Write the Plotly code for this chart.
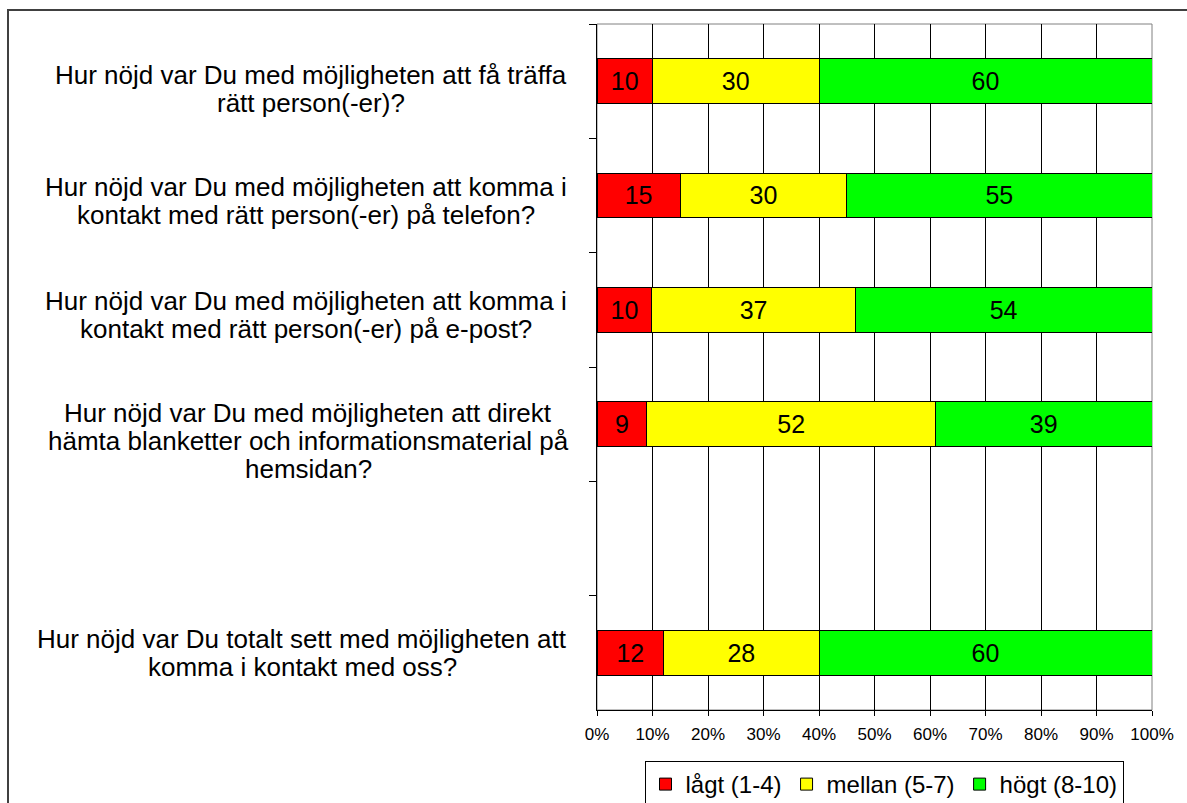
import plotly.graph_objects as go

# ---- data ----
categories = [
    "Hur nöjd var Du med möjligheten att få träffa<br>rätt person(-er)?",
    "Hur nöjd var Du med möjligheten att komma i<br>kontakt med rätt person(-er) på telefon?",
    "Hur nöjd var Du med möjligheten att komma i<br>kontakt med rätt person(-er) på e-post?",
    "Hur nöjd var Du med möjligheten att direkt<br>hämta blanketter och informationsmaterial på<br>hemsidan?",
    "",
    "Hur nöjd var Du totalt sett med möjligheten att<br>komma i kontakt med oss?",
]
lagt = [10, 15, 10, 9, None, 12]
mellan = [30, 30, 37, 52, None, 28]
hogt = [60, 55, 54, 39, None, 60]
series_names = ["lågt (1-4)", "mellan (5-7)", "högt (8-10)"]
x_ticks = [0, 10, 20, 30, 40, 50, 60, 70, 80, 90, 100]

# ---- style ----
colors = ["#FF0000", "#FFFF00", "#00FF00"]
label_yshift = [8, 5, 5, 17, 0, 0]          # px downward from category centre
label_cx = [311, 306, 306, 308, 0, 302]      # px centre of each label block
LINE_H = 28
FONT = "Liberation Sans, Arial, sans-serif"
LABEL_SIZE = 26

W, H = 1187, 803
L, R, T, B = 597, 1152, 24, 710
pw, ph = R - L, B - T

ykeys = [f"c{i}" for i in range(len(categories))]

fig = go.Figure()
for name, vals, col in zip(series_names, [lagt, mellan, hogt], colors):
    fig.add_trace(go.Bar(
        y=ykeys, x=vals, name=name, orientation="h",
        marker=dict(color=col, line=dict(color="#000000", width=1)),
        text=[("" if v is None else str(v)) for v in vals],
        textposition="inside", insidetextanchor="middle",
        textfont=dict(size=25, color="#000000", family=FONT),
        constraintext="none",
        hoverinfo="skip",
    ))

for i, (k, lab) in enumerate(zip(ykeys, categories)):
    if not lab:
        continue
    lines = lab.split("<br>")
    n = len(lines)
    for j, line in enumerate(lines):
        off = (j - (n - 1) / 2) * LINE_H + label_yshift[i]
        fig.add_annotation(
            x=(label_cx[i] - L) / pw, xref="paper", y=k, yref="y", text=line,
            showarrow=False, xanchor="center", yanchor="middle", align="center",
            yshift=-off,
            font=dict(size=LABEL_SIZE, color="#000000", family=FONT),
        )

# plot area border (gray)
fig.add_shape(type="rect", xref="paper", yref="paper", x0=0, x1=1, y0=0, y1=1,
              line=dict(color="#808080", width=1), layer="below")
# outer chart border
fig.add_shape(type="rect", xref="paper", yref="paper",
              x0=(8 - L) / pw, x1=(W + 5 - L) / pw,
              y0=(B - (H + 5)) / ph, y1=(B - 10) / ph,
              line=dict(color="#404040", width=2))

fig.update_layout(
    width=W, height=H,
    margin=dict(l=L, r=W - R, t=T, b=H - B, autoexpand=False),
    barmode="stack", barnorm="percent", bargap=0.61,
    plot_bgcolor="#FFFFFF", paper_bgcolor="#FFFFFF",
    font=dict(family=FONT, color="#000000"),
    showlegend=True,
    legend=dict(
        orientation="h", x=(884 - L) / pw, xanchor="center",
        y=(B - 761) / ph, yanchor="top",
        bordercolor="#000000", borderwidth=1, bgcolor="#FFFFFF",
        font=dict(size=24, family=FONT, color="#000000"),
        traceorder="normal", itemwidth=30,
        tracegroupgap=0,
    ),
    xaxis=dict(
        range=[0, 100], tickvals=x_ticks, ticktext=[f"{v}%" for v in x_ticks],
        showgrid=True, gridcolor="#000000", gridwidth=1,
        showline=True, linecolor="#000000", linewidth=1,
        ticks="outside", ticklen=5, tickcolor="#000000",
        ticklabelstandoff=4,
        tickfont=dict(size=17, family=FONT, color="#000000"),
        zeroline=False, fixedrange=True,
    ),
    yaxis=dict(
        categoryorder="array", categoryarray=ykeys, autorange="reversed",
        showticklabels=False, showgrid=False,
        showline=True, linecolor="#000000", linewidth=1,
        ticks="outside", tickson="boundaries", ticklen=7, tickcolor="#000000",
        zeroline=False, fixedrange=True,
    ),
)

fig.write_html("out.html", post_script="document.body.style.margin='0px';",
               config={"displayModeBar": False})
